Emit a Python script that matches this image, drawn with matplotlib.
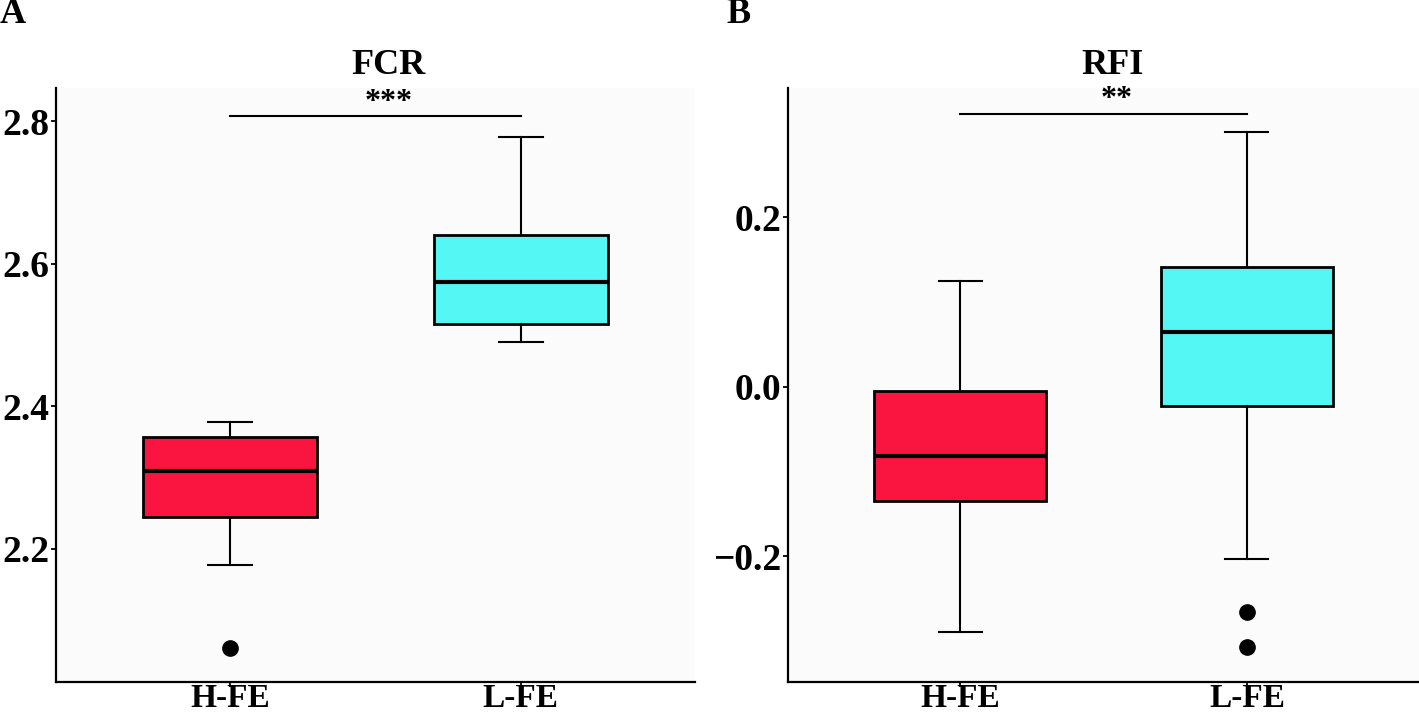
import matplotlib
matplotlib.use('Agg')
import matplotlib.pyplot as plt

plt.rcParams['font.family'] = ['Liberation Serif', 'DejaVu Serif']
plt.rcParams['font.weight'] = 'bold'

groups = ['H-FE', 'L-FE']
colors = ['#FA1541', '#55F7F5']

# FCR panel
fcr_whislo = [2.177, 2.490]
fcr_q1 = [2.244, 2.515]
fcr_med = [2.309, 2.575]
fcr_q3 = [2.356, 2.640]
fcr_whishi = [2.378, 2.778]
fcr_fliers = [[2.061], []]
fcr_sig = 2.808
fcr_stars = '***'

# RFI panel
rfi_whislo = [-0.290, -0.203]
rfi_q1 = [-0.135, -0.023]
rfi_med = [-0.082, 0.065]
rfi_q3 = [-0.005, 0.141]
rfi_whishi = [0.125, 0.301]
rfi_fliers = [[], [-0.266, -0.307]]
rfi_sig = 0.322
rfi_stars = '**'

W, H = 1419, 713
fig = plt.figure(figsize=(W / 100, H / 100), dpi=100)


def make_stats(lo, q1, med, q3, hi, fl):
    stats = []
    for i in range(len(groups)):
        stats.append({'whislo': lo[i], 'q1': q1[i], 'med': med[i], 'q3': q3[i],
                      'whishi': hi[i], 'fliers': fl[i], 'label': groups[i]})
    return stats


def draw_panel(ax, stats, ylim, yticks, yticklabels, sig_y, stars, star_dy):
    pos = list(range(1, len(groups) + 1))
    bp = ax.bxp(stats, positions=pos, widths=0.6, patch_artist=True,
                boxprops=dict(linewidth=2.0, edgecolor='black'),
                whiskerprops=dict(linewidth=1.5, color='black'),
                capprops=dict(linewidth=1.5, color='black'),
                capwidths=0.15,
                medianprops=dict(linewidth=3.0, color='black'),
                flierprops=dict(marker='o', markersize=11, markerfacecolor='black',
                                markeredgecolor='black'))
    for patch, c in zip(bp['boxes'], colors):
        patch.set_facecolor(c)
    ax.set_xlim(0.4, 2.6)
    ax.set_ylim(*ylim)
    ax.set_yticks(yticks)
    ax.set_yticklabels(yticklabels)
    ax.set_xticks(pos)
    ax.set_xticklabels(groups)
    ax.set_facecolor('#fbfbfb')
    for s in ['top', 'right']:
        ax.spines[s].set_visible(False)
    for s in ['left', 'bottom']:
        ax.spines[s].set_linewidth(1.6)
    ax.tick_params(axis='both', length=3.5, width=1.3)
    ax.tick_params(axis='y', pad=1, labelsize=27)
    ax.tick_params(axis='x', pad=-2.5, labelsize=24)
    ax.plot([pos[0], pos[-1]], [sig_y, sig_y], color='black', linewidth=1.5, clip_on=False)
    ax.text((pos[0] + pos[-1]) / 2 + 0.045, sig_y + star_dy, stars, ha='center',
            va='baseline', fontsize=23, fontweight='bold')


axA = fig.add_axes([56 / W, 1 - 682 / H, 639 / W, 594 / H])
draw_panel(axA, make_stats(fcr_whislo, fcr_q1, fcr_med, fcr_q3, fcr_whishi, fcr_fliers),
           (2.0126, 2.8468), [2.2, 2.4, 2.6, 2.8], ['2.2', '2.4', '2.6', '2.8'],
           fcr_sig, fcr_stars, 0.008)

axB = fig.add_axes([788 / W, 1 - 682 / H, 631 / W, 594 / H])
draw_panel(axB, make_stats(rfi_whislo, rfi_q1, rfi_med, rfi_q3, rfi_whishi, rfi_fliers),
           (-0.3485, 0.3527), [-0.2, 0.0, 0.2], ['\u22120.2', '0.0', '0.2'],
           rfi_sig, rfi_stars, 0.0085)

fig.text(388 / W, 1 - 74 / H, 'FCR', ha='center', va='baseline', fontsize=26, fontweight='bold')
fig.text(1113 / W, 1 - 74 / H, 'RFI', ha='center', va='baseline', fontsize=26, fontweight='bold')
fig.text(0 / W, 1 - 23 / H, 'A', ha='left', va='baseline', fontsize=26, fontweight='bold')
fig.text(726 / W, 1 - 23 / H, 'B', ha='left', va='baseline', fontsize=26, fontweight='bold')

fig.savefig('out.png', dpi=100)
